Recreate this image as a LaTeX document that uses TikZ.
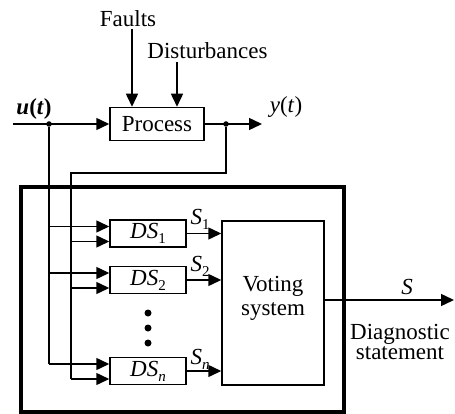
\documentclass[tikz,border=0pt]{standalone}
\usepackage{fontspec}
\setmainfont{Liberation Serif}
\usetikzlibrary{arrows.meta}
\newcommand\lsub[1]{\raisebox{-5pt}{\fontsize{15}{15}\selectfont #1}}
\begin{document}
\begin{tikzpicture}[x=1pt,y=-1pt,
  line width=1.5pt,
  font=\fontsize{23}{24}\selectfont,
  arr/.style={-{Triangle[length=13pt,width=12pt]}},
  blk/.style={draw, inner sep=0pt},
  dsbox/.style={blk, minimum width=76pt, minimum height=27pt},
  lbl/.style={inner sep=0pt},
  jdot/.style={circle, fill, inner sep=0pt, minimum size=5.5pt},
  vdot/.style={circle, fill, inner sep=0pt, minimum size=7pt}]
\useasboundingbox (0,0) rectangle (455,414);

% top part
\node[blk, minimum width=94pt, minimum height=33pt] (proc) at (157,124) {Process};
\node[lbl] (faults) at (128,19) {Faults};
\node[lbl] (dist) at (207.5,51) {Disturbances};
\node[lbl] (u) at (34,108.5) {\textbf{\textit{u}(\textit{t})}};
\node[lbl] (y) at (286,107.5) {\textit{y}(\textit{t})};
\coordinate (uin) at (13,124);
\coordinate (yend) at (262,124);
\coordinate (fb) at (71,173);
\coordinate (ftop) at (132,29);
\coordinate (dtop) at (177,62);
\node[jdot] (uj) at (49,124) {};
\node[jdot] (yj) at (226,124) {};

\draw[arr] (uin) -- (proc.west);
\draw[arr] (ftop) -- (ftop |- proc.north);
\draw[arr] (dtop) -- (dtop |- proc.north);
\draw[arr] (proc.east) -- (yend);

% frame
\node[draw, line width=3.5pt, minimum width=323pt, minimum height=225pt, inner sep=0pt] (frame) at (182.5,299.5) {};

% detection systems
\node[dsbox] (ds1) at (148,233.5) {\textit{DS}\lsub{1}};
\node[dsbox] (ds2) at (148,280) {\textit{DS}\lsub{2}};
\node[dsbox] (dsn) at (148,371) {\textit{DS}\lsub{\textit{n}}};
\node[vdot] (v1) at (148,313) {};
\node[vdot] (v2) at (148,328) {};
\node[vdot] (v3) at (148,343) {};

\node[blk, minimum width=102pt, minimum height=164pt] (vote) at (273,303) {};
\node[lbl, align=center] (votetxt) at ([yshift=5pt]vote.center) {Voting\\system};

\foreach \n in {1,2,n} {
  \coordinate (a\n) at ([yshift=7pt]ds\n.west);
  \coordinate (b\n) at ([yshift=-8pt]ds\n.west);
  \draw[arr] (a\n -| uj) -- (a\n);
  \draw[arr] (b\n -| fb) -- (b\n);
  \draw[arr] (ds\n.east) -- (ds\n.east -| vote.west);
}
\draw (uj) -- (uj |- an);
\draw (yj) |- (fb) -- (fb |- bn);

\node[lbl, anchor=south west] (s1) at ([xshift=3pt,yshift=3pt]ds1.east) {\textit{S}\lsub{1}};
\node[lbl, anchor=south west] (s2) at ([xshift=3pt,yshift=3pt]ds2.east) {\textit{S}\lsub{2}};
\node[lbl, anchor=south west] (sn) at ([xshift=3pt,yshift=1pt]dsn.east) {\textit{S}\lsub{\textit{n}}};

% output
\coordinate (sout) at (454,300);
\draw[arr] (vote.east |- sout) -- (sout);
\node[lbl] (s) at (407,287) {\textit{S}};
\node[lbl, align=center, font=\fontsize{23}{20}\selectfont] (diag) at (400,342) {Diagnostic\\statement};
\end{tikzpicture}
\end{document}
